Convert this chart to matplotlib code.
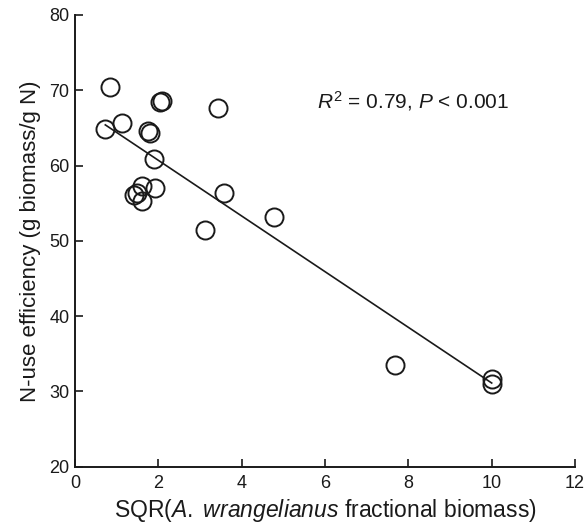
import numpy as np
import matplotlib
matplotlib.use('Agg')
import matplotlib.pyplot as plt

plt.rcParams['font.family'] = ['Liberation Sans', 'DejaVu Sans']
plt.rcParams['mathtext.fontset'] = 'custom'
plt.rcParams['mathtext.rm'] = 'Liberation Sans'
plt.rcParams['mathtext.it'] = 'Liberation Sans:italic'

# SQR(A. wrangelianus fractional biomass) vs N-use efficiency
sqr_biomass = [0.84, 2.05, 2.10, 3.43, 0.73, 1.12, 1.76, 1.80, 1.89, 1.60,
               1.92, 1.41, 1.48, 1.60, 3.57, 3.12, 4.77, 7.68, 10.0, 10.0]
n_use_eff = [70.4, 68.4, 68.6, 67.6, 64.9, 65.6, 64.6, 64.3, 60.8, 57.3,
             57.0, 56.1, 56.3, 55.3, 56.4, 51.4, 53.2, 33.5, 31.6, 31.0]

# regression line
fit_slope = -3.70
fit_intercept = 68.1
fit_x = [0.73, 10.0]

x_ticks = [0, 2, 4, 6, 8, 10, 12]
y_ticks = [20, 30, 40, 50, 60, 70, 80]

fig = plt.figure(figsize=(5.85, 5.26), dpi=100)
ax = fig.add_axes([0.128, 0.113, 0.855, 0.8585])

fx = np.array(fit_x)
ax.plot(fx, fit_intercept + fit_slope * fx, color='#1a1a1a', linewidth=1.2, zorder=2)
ax.plot(sqr_biomass, n_use_eff, linestyle='none', marker='o', markersize=13,
        markerfacecolor='none', markeredgecolor='#1a1a1a', markeredgewidth=1.4, zorder=3)

ax.text(5.8, 68.6, r'$R^2$ = 0.79, $P$ < 0.001', fontsize=15, va='center', ha='left', color='#1a1a1a')

ax.set_xlim(0, 12)
ax.set_ylim(20, 80)
ax.set_xticks(x_ticks)
ax.set_yticks(y_ticks)
ax.spines['top'].set_visible(False)
ax.spines['right'].set_visible(False)
for s in ['left', 'bottom']:
    ax.spines[s].set_linewidth(1.4)
    ax.spines[s].set_color('#1a1a1a')
ax.tick_params(direction='in', length=6, width=1.2, labelsize=13, colors='#1a1a1a')
ax.tick_params(axis='x', pad=6)
ax.tick_params(axis='y', pad=4)

ax.set_xlabel(r'SQR($\mathit{A.\ wrangelianus}$ fractional biomass)', fontsize=16.5, color='#1a1a1a', labelpad=4)
ax.set_ylabel('N-use efficiency (g biomass/g N)', fontsize=16, color='#1a1a1a', labelpad=6)

plt.savefig('out.png', dpi=100)
plt.close()
